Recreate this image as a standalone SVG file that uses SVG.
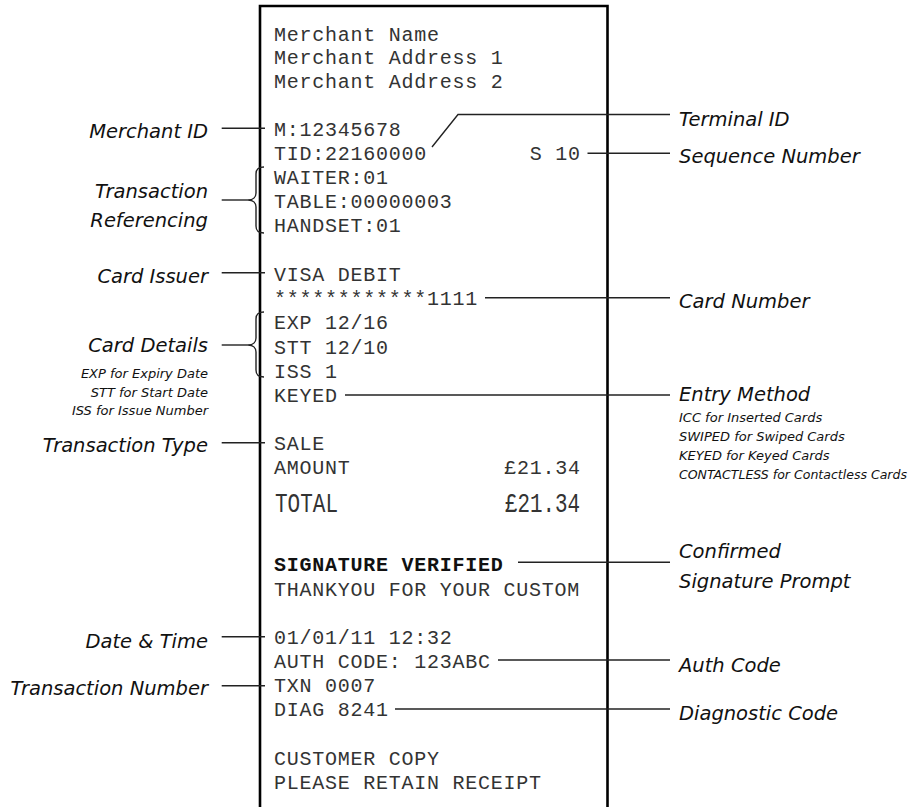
<svg xmlns="http://www.w3.org/2000/svg" width="921" height="807" viewBox="0 0 921 807">
<style>
.r{font-family:"Liberation Mono","Courier New",monospace;font-size:20px;letter-spacing:0.75px;fill:#333}
.rb{font-family:"Liberation Mono","Courier New",monospace;font-size:20px;letter-spacing:0.75px;font-weight:bold;fill:#111}
.big{font-family:"Liberation Mono","Courier New",monospace;font-size:28px;fill:#333}
.l{font-family:"DejaVu Sans",sans-serif;font-style:italic;font-size:19.5px;fill:#111}
.s{font-family:"DejaVu Sans",sans-serif;font-style:italic;font-size:13px;fill:#111}
.le{text-anchor:end}
.c{fill:none;stroke:#222;stroke-width:1.4}
</style>
<rect width="921" height="807" fill="#fff"/>
<g id="receipt">
<path d="M260,807 V6 H607.5 V807" fill="none" stroke="#000" stroke-width="2.6"/>
<text class="r" x="274" y="40.5">Merchant Name</text>
<text class="r" x="274" y="64">Merchant Address 1</text>
<text class="r" x="274" y="87.5">Merchant Address 2</text>
<text class="r" x="274" y="136">M:12345678</text>
<text class="r" x="274" y="160">TID:22160000</text>
<text class="r" x="580.7" y="160" text-anchor="end">S 10</text>
<text class="r" x="274" y="184.3">WAITER:01</text>
<text class="r" x="274" y="208.3">TABLE:00000003</text>
<text class="r" x="274" y="232.3">HANDSET:01</text>
<text class="r" x="274" y="281">VISA DEBIT</text>
<text class="r" x="274" y="305">************1111</text>
<text class="r" x="274" y="329">EXP 12/16</text>
<text class="r" x="274" y="353.5">STT 12/10</text>
<text class="r" x="274" y="377.5">ISS 1</text>
<text class="r" x="274" y="401.5">KEYED</text>
<text class="r" x="274" y="450">SALE</text>
<text class="r" x="274" y="474">AMOUNT</text>
<text class="r" x="580.7" y="474" text-anchor="end">£21.34</text>
<text class="big" x="275" y="512" textLength="63" lengthAdjust="spacingAndGlyphs">TOTAL</text>
<text class="big" x="505" y="512" textLength="75" lengthAdjust="spacingAndGlyphs">£21.34</text>
<text class="rb" x="274" y="571">SIGNATURE VERIFIED</text>
<text class="r" x="274" y="596">THANKYOU FOR YOUR CUSTOM</text>
<text class="r" x="274" y="644">01/01/11 12:32</text>
<text class="r" x="274" y="667.5">AUTH CODE: 123ABC</text>
<text class="r" x="274" y="691.5">TXN 0007</text>
<text class="r" x="274" y="716">DIAG 8241</text>
<text class="r" x="274" y="765">CUSTOMER COPY</text>
<text class="r" x="274" y="789">PLEASE RETAIN RECEIPT</text>
</g>
<g id="connectors">
<line class="c" x1="221.7" y1="128.3" x2="265" y2="128.3"/>
<line class="c" x1="221.7" y1="200" x2="248" y2="200"/>
<path class="c" d="M264,167 C258,167 256,169 256,174 L256,193 C256,197 253,200 248,200 C253,200 256,203 256,207 L256,226 C256,231 258,233 264,233"/>
<line class="c" x1="221.7" y1="272.7" x2="265" y2="272.7"/>
<line class="c" x1="221.7" y1="345" x2="248" y2="345"/>
<path class="c" d="M264,312 C258,312 256,314 256,319 L256,338 C256,342 253,345 248,345 C253,345 256,348 256,352 L256,370 C256,375 258,377 264,377"/>
<line class="c" x1="221.7" y1="442.7" x2="265" y2="442.7"/>
<line class="c" x1="221.7" y1="636.7" x2="265" y2="636.7"/>
<line class="c" x1="221.7" y1="685.7" x2="265" y2="685.7"/>
<polyline class="c" points="432,147 458,114.5 670,114.5"/>
<line class="c" x1="587.5" y1="153.3" x2="670" y2="153.3"/>
<line class="c" x1="485" y1="297.7" x2="670" y2="297.7"/>
<line class="c" x1="345" y1="395" x2="670" y2="395"/>
<line class="c" x1="518" y1="562.3" x2="670" y2="562.3"/>
<line class="c" x1="498" y1="660" x2="670" y2="660"/>
<line class="c" x1="395" y1="709" x2="670" y2="709"/>
</g>
<g id="merchant-id"><text class="l le" x="208" y="138">Merchant ID</text></g>
<g id="transaction-referencing"><text class="l le" x="208" y="197.5">Transaction</text><text class="l le" x="208" y="227">Referencing</text></g>
<g id="card-issuer"><text class="l le" x="208" y="283">Card Issuer</text></g>
<g id="card-details"><text class="l le" x="208" y="352">Card Details</text>
<text class="s le" x="208" y="378">EXP for Expiry Date</text>
<text class="s le" x="208" y="396.5">STT for Start Date</text>
<text class="s le" x="208" y="415">ISS for Issue Number</text></g>
<g id="transaction-type"><text class="l le" x="208" y="451.7">Transaction Type</text></g>
<g id="date-time"><text class="l le" x="208" y="647.7">Date &amp; Time</text></g>
<g id="transaction-number"><text class="l le" x="208" y="695">Transaction Number</text></g>
<g id="terminal-id"><text class="l" x="679" y="126">Terminal ID</text></g>
<g id="sequence-number"><text class="l" x="679" y="162.7">Sequence Number</text></g>
<g id="card-number"><text class="l" x="679" y="308.3">Card Number</text></g>
<g id="entry-method"><text class="l" x="679" y="400.5">Entry Method</text>
<text class="s" x="679" y="421.7">ICC for Inserted Cards</text>
<text class="s" x="679" y="441">SWIPED for Swiped Cards</text>
<text class="s" x="679" y="460">KEYED for Keyed Cards</text>
<text class="s" x="679" y="479.3" textLength="228" lengthAdjust="spacingAndGlyphs">CONTACTLESS for Contactless Cards</text></g>
<g id="confirmed-signature-prompt"><text class="l" x="679" y="558.3">Confirmed</text><text class="l" x="679" y="587.7">Signature Prompt</text></g>
<g id="auth-code"><text class="l" x="679" y="671.7">Auth Code</text></g>
<g id="diagnostic-code"><text class="l" x="679" y="720">Diagnostic Code</text></g>
</svg>
